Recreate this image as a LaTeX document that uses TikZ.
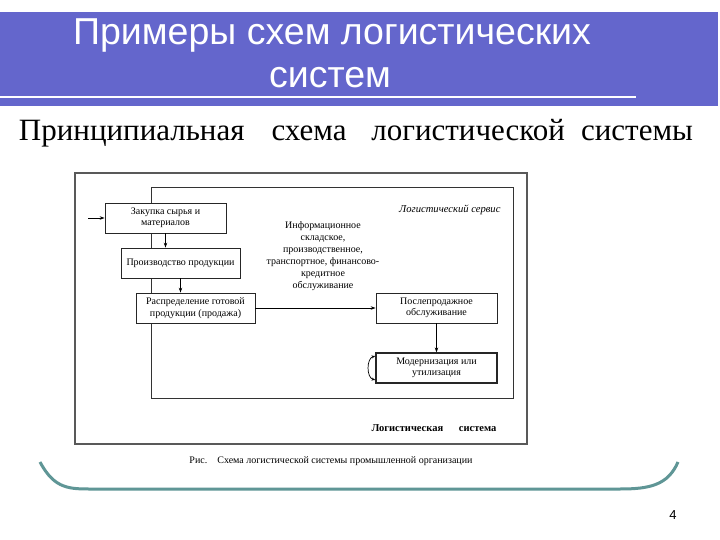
\documentclass[tikz,border=0pt]{standalone}
\usepackage{fontspec}
\setmainfont{Liberation Serif}
\newfontfamily\titlefont{Liberation Sans}
\usetikzlibrary{arrows.meta}
\definecolor{bannercol}{RGB}{100,102,204}
\definecolor{bracketcol}{RGB}{95,150,150}
\begin{document}
\begin{tikzpicture}[x=1pt,y=-1pt,
  box/.style={draw=black!85, line width=0.8pt, fill=white, inner sep=0pt, align=center,
              minimum width=120pt, minimum height=30pt, font=\fontsize{10}{11.5}\selectfont},
  arr/.style={-{Stealth[length=5pt,width=3.5pt]}, line width=0.7pt},
  framein/.style={draw=black!80, line width=1pt},
  frameout/.style={draw=black!65, line width=1.4pt}]
\useasboundingbox (0,0) rectangle (720,540);
\fill[white] (0,0) rectangle (720,540);
% banner
\fill[bannercol] (0,12) rectangle (718,106);
\draw[white, line width=2.5pt] (0,97) -- (636,97);
\node[text=white, font=\titlefont\fontsize{37.5}{42}\selectfont] (t1) at (332,35) {Примеры схем логистических};
\node[text=white, font=\titlefont\fontsize{37.5}{42}\selectfont] (t2) at (330,78) {систем};
% subtitle
\node[font=\fontsize{31}{35}\selectfont] (sub) at (356,133) {Принципиальная\hspace{0.87em}схема\hspace{0.8em}логистической\hspace{0.52em}системы};
% frames
\draw[frameout] (75,173) rectangle (527,444);
\draw[framein] (151,188) rectangle (513,398);
% boxes
\node[box, minimum width=121pt] (b1) at (165.5,218) {Закупка сырья и\\материалов};
\node[box, minimum width=119pt] (b2) at (180.5,263) {Производство продукции};
\node[box, minimum width=119pt] (b3) at (195.5,308) {Распределение готовой\\продукции (продажа)};
\node[box, minimum width=121pt] (b4) at (436.5,308) {Послепродажное\\обслуживание};
\node[box, minimum width=121pt, line width=1.2pt] (b5) at (436.5,368) {Модернизация или\\утилизация};
% arrows
\coordinate (in) at (88,218);
\draw[arr] (in) -- (b1.west);
\draw[arr] (b1.south) -- (b1.south |- b2.north);
\draw[arr] (b2.south) -- (b2.south |- b3.north);
\draw[arr] (b3.east) -- (b4.west);
\draw[arr] (b4.south) -- (b5.north);
\draw[{Stealth[length=4pt,width=3pt]}-{Stealth[length=4pt,width=3pt]}, line width=0.7pt]
  ([yshift=12pt]b5.west) to[bend right=75] ([yshift=-12pt]b5.west);
% texts
\node[align=center, font=\fontsize{10}{12}\selectfont] (info) at (323,256)
  {Информационное\\складское,\\производственное,\\транспортное, финансово-\\кредитное\\обслуживание};
\node[font=\itshape\fontsize{10.6}{12}\selectfont, anchor=east] (ls) at (504,210) {Логистический сервис};
\node[font=\bfseries\fontsize{10.5}{12}\selectfont, anchor=east] (lsys) at (500,428) {Логистическая\hspace{1.5em}система};
\node[font=\fontsize{10}{12}\selectfont] (cap) at (331,461) {Рис.\hspace{1em}Схема логистической системы промышленной организации};
% bracket
\draw[bracketcol, line width=3pt] (40,462) .. controls (55,490) and (70,489) .. (95,489) -- (620,489) .. controls (650,489) and (668,485) .. (678,462);
% page number
\node[font=\titlefont\fontsize{13}{14}\selectfont] (pg) at (673,515) {4};
\end{tikzpicture}
\end{document}
